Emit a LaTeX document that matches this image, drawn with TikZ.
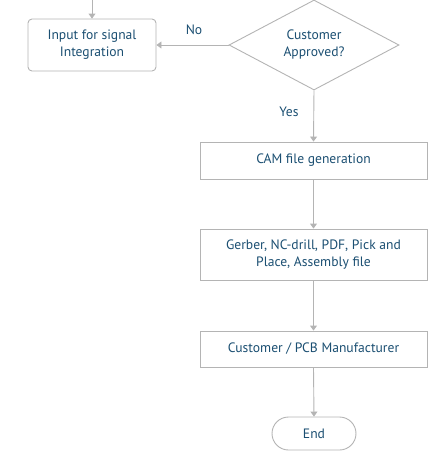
\documentclass[tikz,border=0pt]{standalone}
\usepackage{fontspec}
\setmainfont{PT Sans}
\usetikzlibrary{shapes.geometric,shapes.misc,arrows.meta}
\definecolor{flowtext}{HTML}{1B4F72}
\definecolor{flowline}{HTML}{B4B4B4}
\tikzset{
    flowbox/.style={draw=flowline, line width=0.9pt, fill=white, text=flowtext,
        align=center, inner sep=2pt, font=\fontsize{13.6}{17}\selectfont},
    flowarrow/.style={draw=flowline, line width=0.9pt,
        -{Triangle[width=7pt,length=5pt]}},
    flowlabel/.style={text=flowtext, font=\fontsize{13.6}{17}\selectfont}
}
\begin{document}
\begin{tikzpicture}[x=1pt, y=-1pt]

    \useasboundingbox (0, 0) rectangle (428, 451);

    %% Approval loop

    % Input box
    \node [flowbox, rounded corners=4pt, minimum width=128pt, minimum height=52pt]
        (input) at (92, 45) {Input for signal\\Integration};
    \coordinate (top) at (92, -2);

    % Decision
    \node [flowbox, diamond, aspect=1.89, minimum width=170pt, minimum height=90pt, inner sep=0pt]
        (approved) at (314, 45) {Customer\\Approved?};

    %% Output chain

    \node [flowbox, minimum width=227pt, minimum height=37pt]
        (cam) at (313.5, 160.5) {CAM file generation};
    \node [flowbox, minimum width=227pt, minimum height=51pt]
        (gerber) at (313.5, 254.5) {Gerber, NC-drill, PDF, Pick and\\Place, Assembly file};
    \node [flowbox, minimum width=227pt, minimum height=36pt]
        (maker) at (313.5, 349) {Customer / PCB Manufacturer};

    % End
    \node [flowbox, rounded rectangle, minimum width=88pt, minimum height=33pt]
        (end) at (314, 433.5) {End};

    % Connectors
    \draw [flowarrow] (top) -- (input.north);
    \draw [flowarrow] (approved.west) -- (input.east);
    \draw [flowarrow] (approved.south) -- (cam.north);
    \draw [flowarrow] (cam.south) -- (gerber.north);
    \draw [flowarrow] (gerber.south) -- (maker.north);
    \draw [flowarrow] (maker.south) -- (end.north);

    % Labels
    \node [flowlabel] (no) at (194, 30) {No};
    \node [flowlabel] (yes) at (289, 112) {Yes};

\end{tikzpicture}
\end{document}
